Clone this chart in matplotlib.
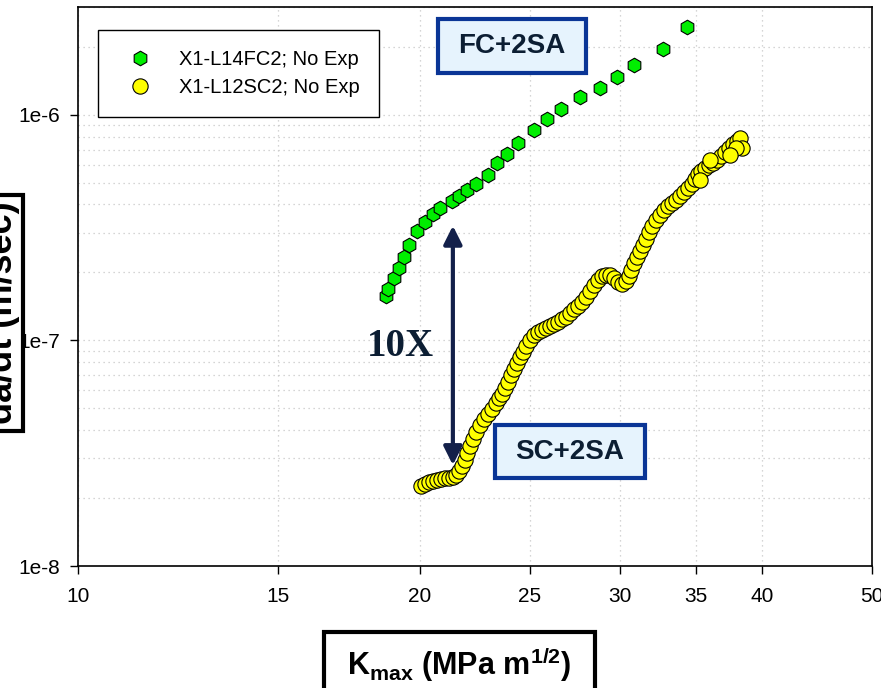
import matplotlib
matplotlib.use("Agg")
import matplotlib.pyplot as plt
from matplotlib.patches import Rectangle
from matplotlib.ticker import LogLocator, NullLocator, NullFormatter

plt.rcParams.update({
    "font.family": "Liberation Sans",
    "mathtext.fontset": "custom",
    "mathtext.rm": "Liberation Sans",
    "mathtext.bf": "Liberation Sans:bold",
    "mathtext.it": "Liberation Sans:italic",
})

W, H = 881, 688

# FC+2SA (green hexagons)
kmax_fc = [18.67, 18.74, 18.97, 19.17, 19.36, 19.56, 19.88, 20.20, 20.53, 20.83,
           21.34, 21.64, 22.00, 22.40, 22.95, 23.38, 23.86, 24.40, 25.20, 25.87,
           26.62, 27.66, 28.80, 29.81, 30.86, 32.73, 34.36]
dadt_fc = [1.57e-7, 1.68e-7, 1.88e-7, 2.10e-7, 2.34e-7, 2.65e-7, 3.06e-7, 3.35e-7,
           3.64e-7, 3.87e-7, 4.16e-7, 4.37e-7, 4.65e-7, 4.94e-7, 5.42e-7, 6.12e-7,
           6.71e-7, 7.52e-7, 8.58e-7, 9.59e-7, 1.063e-6, 1.202e-6, 1.318e-6,
           1.474e-6, 1.666e-6, 1.962e-6, 2.455e-6]

# SC+2SA (yellow circles)
kmax_sc = [20.04, 20.20, 20.37, 20.53, 20.70, 20.87, 21.04, 21.21, 21.38, 21.51,
           21.65, 21.78, 21.91, 22.00, 22.13, 22.27, 22.40, 22.59, 22.77, 22.96,
           23.14, 23.33, 23.47, 23.62, 23.76, 23.91, 24.05, 24.20, 24.35, 24.49,
           24.64, 24.79, 25.00, 25.20, 25.40, 25.61, 25.82, 26.03, 26.24, 26.45,
           26.67, 26.89, 27.11, 27.33, 27.55, 27.77, 28.00, 28.23, 28.46, 28.69,
           28.92, 29.16, 29.39, 29.63, 29.87, 30.12, 30.36, 30.55, 30.67, 30.86,
           31.05, 31.24, 31.43, 31.62, 31.81, 32.01, 32.27, 32.53, 32.79, 33.06,
           33.33, 33.60, 33.87, 34.15, 34.43, 34.71, 34.92, 35.13, 35.35, 35.64,
           35.93, 36.22, 36.51, 36.81, 37.11, 37.41, 37.72, 38.02, 38.26, 38.41,
           37.95, 37.49, 36.00, 35.28]
dadt_sc = [2.263e-8, 2.310e-8, 2.358e-8, 2.382e-8, 2.407e-8, 2.432e-8, 2.444e-8,
           2.457e-8, 2.482e-8, 2.533e-8, 2.638e-8, 2.776e-8, 2.952e-8, 3.171e-8,
           3.406e-8, 3.659e-8, 3.929e-8, 4.221e-8, 4.486e-8, 4.721e-8, 4.968e-8,
           5.282e-8, 5.559e-8, 5.790e-8, 6.156e-8, 6.545e-8, 7.031e-8, 7.475e-8,
           7.946e-8, 8.448e-8, 8.892e-8, 9.454e-8, 1.005e-7, 1.058e-7, 1.091e-7,
           1.113e-7, 1.136e-7, 1.160e-7, 1.184e-7, 1.208e-7, 1.246e-7, 1.271e-7,
           1.324e-7, 1.380e-7, 1.422e-7, 1.482e-7, 1.559e-7, 1.658e-7, 1.762e-7,
           1.855e-7, 1.932e-7, 1.952e-7, 1.942e-7, 1.893e-7, 1.817e-7, 1.780e-7,
           1.836e-7, 1.932e-7, 2.055e-7, 2.206e-7, 2.346e-7, 2.494e-7, 2.651e-7,
           2.819e-7, 3.028e-7, 3.219e-7, 3.422e-7, 3.601e-7, 3.790e-7, 3.948e-7,
           4.071e-7, 4.197e-7, 4.372e-7, 4.555e-7, 4.744e-7, 4.942e-7, 5.201e-7,
           5.473e-7, 5.644e-7, 5.819e-7, 6.001e-7, 6.124e-7, 6.315e-7, 6.579e-7,
           6.853e-7, 7.138e-7, 7.436e-7, 7.667e-7, 7.905e-7, 7.138e-7, 7.138e-7,
           6.646e-7, 6.315e-7, 5.148e-7]

xticks = [10, 15, 20, 25, 30, 35, 40, 50]
xtick_labels = ["10", "15", "20", "25", "30", "35", "40", "50"]
yticks = [1e-8, 1e-7, 1e-6]
ytick_labels = ["1e-8", "1e-7", "1e-6"]

# 10X arrow between the two curves
arrow_k = 21.38
arrow_top, arrow_bot = 3.22e-7, 2.80e-8

NAVY = "#13204a"
BOX_EDGE = "#0a3596"
BOX_FILL = "#e6f3fd"
TEXT_DARK = "#0c1e33"


def px_rect(x0, y0, x1, y1, **kw):
    """Rectangle given in pixel coords of the figure (origin top-left)."""
    return Rectangle((x0 / W, 1 - y1 / H), (x1 - x0) / W, (y1 - y0) / H,
                     transform=fig.transFigure, clip_on=False, **kw)


fig = plt.figure(figsize=(W / 100, H / 100), dpi=100)
ax = fig.add_axes([78 / W, 1 - 566 / H, 794 / W, 559 / H])
ax.set_xscale("log")
ax.set_yscale("log")

ax.plot(kmax_fc, dadt_fc, "h", ms=10.5, mfc="#00ee00", mec="black", mew=0.8,
        label="X1-L14FC2; No Exp", zorder=3)
ax.plot(kmax_sc, dadt_sc, "o", ms=11, mfc="#ffff00", mec="black", mew=0.8,
        label="X1-L12SC2; No Exp", zorder=3)

ax.set_xlim(10, 50)
ax.set_ylim(1e-8, 3e-6)
ax.set_xticks(xticks)
ax.set_xticklabels(xtick_labels)
ax.xaxis.set_minor_locator(NullLocator())
ax.set_yticks(yticks)
ax.set_yticklabels(ytick_labels)
ax.yaxis.set_minor_locator(LogLocator(base=10, subs=range(2, 10)))
ax.yaxis.set_minor_formatter(NullFormatter())
ax.tick_params(which="minor", length=0)
ax.tick_params(which="major", direction="out", length=6, width=1, labelsize=15)
ax.tick_params(axis="x", pad=9)
ax.tick_params(axis="y", pad=7)
for s in ax.spines.values():
    s.set_linewidth(1.2)

ax.set_axisbelow(True)
ax.grid(axis="y", which="both", color="#c8c8c8", linestyle=(0, (1, 3)), lw=0.9)
ax.grid(axis="x", which="major", color="#c8c8c8", linestyle=(0, (1, 3)), lw=0.9)

leg = ax.legend(loc="upper left", bbox_to_anchor=((98 - 78) / 794, (566 - 30) / 559),
                borderaxespad=0, fontsize=14.5, numpoints=1, fancybox=False,
                framealpha=1, edgecolor="black", borderpad=1.0, labelspacing=0.45,
                handlelength=2.2, handletextpad=0.8)
leg.get_frame().set_linewidth(1.0)

ax.annotate("", xy=(arrow_k, arrow_top), xytext=(arrow_k, arrow_bot),
            arrowprops=dict(arrowstyle="<|-|>,head_length=1.1,head_width=0.55",
                            mutation_scale=10, lw=3, color=NAVY,
                            shrinkA=0, shrinkB=0))

fig.text(400 / W, 1 - 347 / H, "10X", family="Liberation Serif", weight="bold",
         size=28, color=TEXT_DARK, ha="center", va="center")

# labelled boxes for the two conditions
fig.patches.append(px_rect(438, 19, 586, 73, fc=BOX_FILL, ec=BOX_EDGE, lw=3))
fig.text(512 / W, 1 - 46 / H, "FC+2SA", weight="bold", size=20, color=TEXT_DARK,
         ha="center", va="center")
fig.patches.append(px_rect(495, 425, 645, 478, fc=BOX_FILL, ec=BOX_EDGE, lw=3))
fig.text(570 / W, 1 - 452 / H, "SC+2SA", weight="bold", size=20, color=TEXT_DARK,
         ha="center", va="center")

# axis titles in black boxes
fig.patches.append(px_rect(-10, 195, 23, 431, fc="white", ec="black", lw=3, zorder=4))
fig.text(3 / W, 1 - 313 / H, "da/dt (m/sec)", weight="bold", size=26,
         rotation=90, ha="center", va="center", zorder=5)
fig.patches.append(px_rect(324, 632, 595, 700, fc="white", ec="black", lw=3, zorder=4))
fig.text(459 / W, 1 - 664 / H, r"$\mathbf{K_{max}\ (MPa\ m^{1/2})}$", size=22,
         ha="center", va="center", zorder=5)

fig.savefig("out.png", dpi=100)
